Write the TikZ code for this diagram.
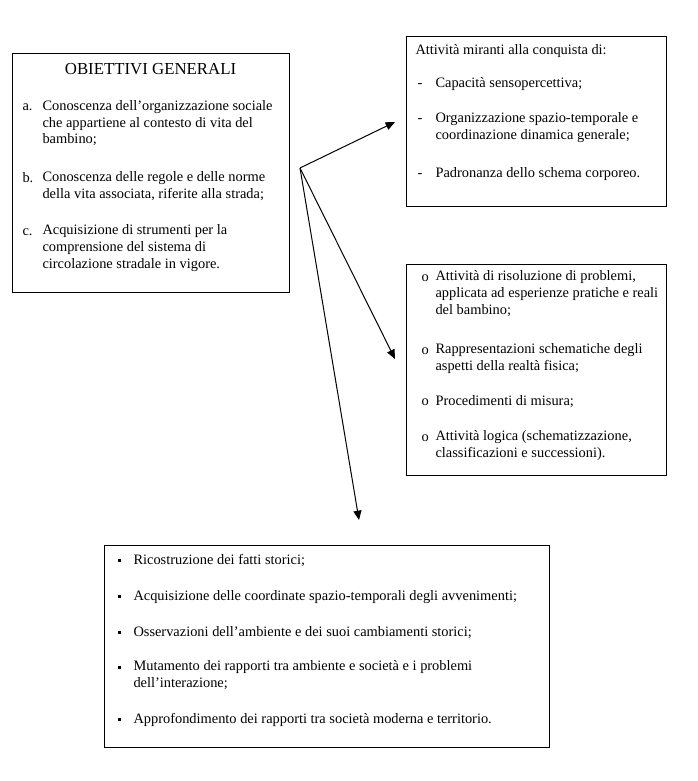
\documentclass[tikz,border=0pt]{standalone}
\usepackage{fontspec}
\setmainfont{Liberation Serif}
\usetikzlibrary{arrows.meta}

\tikzset{
  box/.style={draw,anchor=north west,inner sep=0pt},
  riga/.style={anchor=base west,inner sep=0pt,align=left,font=\fontsize{10.8}{12.4}\selectfont},
  arr/.style={-{Triangle[length=7pt,width=6pt]}}
}
\newcommand{\quadretto}{\raisebox{1.4pt}{\rule{2.6pt}{2.6pt}}}

\begin{document}
\begin{tikzpicture}[x=.75pt,y=-.75pt,line width=.75pt]
\useasboundingbox (0,0) rectangle (697,781);
% riquadri
\node[box,minimum width=277*.75pt,minimum height=239*.75pt] (obiettivi) at (12,53) {};
\node[box,minimum width=260*.75pt,minimum height=170*.75pt] (motorie) at (406,36) {};
\node[box,minimum width=260*.75pt,minimum height=211*.75pt] (logiche) at (406,264) {};
\node[box,minimum width=445*.75pt,minimum height=202*.75pt] (storiche) at (104,545) {};
% obiettivi generali (testi a piu righe: base = ultima riga)
\node[anchor=base,inner sep=0pt,font=\fontsize{12.6}{14}\selectfont] (titolo) at (150.5,75) {OBIETTIVI GENERALI};
\node[riga] (a) at (22,111) {a.};
\node[riga] (ta) at (42,144) {Conoscenza dell'organizzazione sociale\\che appartiene al contesto di vita del\\bambino;};
\node[riga] (b) at (22,182) {b.};
\node[riga] (tb) at (42,198.5) {Conoscenza delle regole e delle norme\\della vita associata, riferite alla strada;};
\node[riga] (c) at (22,235) {c.};
\node[riga] (tc) at (42,268) {Acquisizione di strumenti per la\\comprensione del sistema di\\circolazione stradale in vigore.};
% attivita motorie
\node[riga] (intro) at (415,55) {Attività miranti alla conquista di:};
\node[riga] (d1) at (417,88) {-};
\node[riga] (m1) at (435,88) {Capacità sensopercettiva;};
\node[riga] (d2) at (417,123) {-};
\node[riga] (m2) at (435,139.5) {Organizzazione spazio-temporale e\\coordinazione dinamica generale;};
\node[riga] (d3) at (417,177) {-};
\node[riga] (m3) at (435,177) {Padronanza dello schema corporeo.};
% attivita logiche
\node[riga] (o1) at (421,281) {o};
\node[riga] (l1) at (435,314) {Attività di risoluzione di problemi,\\applicata ad esperienze pratiche e reali\\del bambino;};
\node[riga] (o2) at (421,354) {o};
\node[riga] (l2) at (435,370.5) {Rappresentazioni schematiche degli\\aspetti della realtà fisica;};
\node[riga] (o3) at (421,405) {o};
\node[riga] (l3) at (435,405) {Procedimenti di misura;};
\node[riga] (o4) at (421,441) {o};
\node[riga] (l4) at (435,457.5) {Attività logica (schematizzazione,\\classificazioni e successioni).};
% attivita storiche
\node[riga] (q1) at (117,564) {\quadretto};
\node[riga] (s1) at (133,564) {Ricostruzione dei fatti storici;};
\node[riga] (q2) at (117,600) {\quadretto};
\node[riga] (s2) at (133,600) {Acquisizione delle coordinate spazio-temporali degli avvenimenti;};
\node[riga] (q3) at (117,636) {\quadretto};
\node[riga] (s3) at (133,636) {Osservazioni dell'ambiente e dei suoi cambiamenti storici;};
\node[riga] (q4) at (117,671) {\quadretto};
\node[riga] (s4) at (133,687.5) {Mutamento dei rapporti tra ambiente e società e i problemi\\dell'interazione;};
\node[riga] (q5) at (117,723) {\quadretto};
\node[riga] (s5) at (133,723) {Approfondimento dei rapporti tra società moderna e territorio.};
% frecce
\coordinate (fork) at (300,168);
\coordinate (punta1) at (395,122);
\coordinate (punta2) at (395,359);
\coordinate (punta3) at (359,520);
\draw[arr] (fork) -- (punta1);
\draw[arr] (fork) -- (punta2);
\draw[arr] (fork) -- (punta3);
\end{tikzpicture}
\end{document}
